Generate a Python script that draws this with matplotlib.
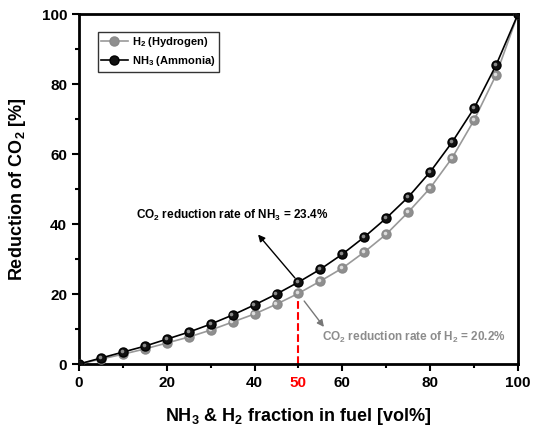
import numpy as np
import matplotlib
matplotlib.use("Agg")
from matplotlib import pyplot as plt
from matplotlib import transforms

plt.rcParams['font.family'] = ['Liberation Sans', 'DejaVu Sans']
plt.rcParams['font.weight'] = 'bold'
plt.rcParams['mathtext.fontset'] = 'custom'
plt.rcParams['mathtext.rm'] = 'Liberation Sans:bold'
plt.rcParams['mathtext.bf'] = 'Liberation Sans:bold'
plt.rcParams['mathtext.default'] = 'bf'

# fraction of NH3 / H2 in fuel [vol%]
fraction = [0, 5, 10, 15, 20, 25, 30, 35, 40, 45, 50, 55, 60, 65, 70, 75, 80, 85, 90, 95, 100]
# reduction of CO2 [%]
red_h2 = [0, 1.4, 2.8, 4.3, 6.0, 7.7, 9.7, 12.0, 14.3, 17.1, 20.2, 23.7, 27.4, 32.0, 37.1, 43.4, 50.3, 58.9, 69.7, 82.6, 100]
red_nh3 = [0, 1.7, 3.4, 5.1, 7.1, 9.1, 11.4, 14.0, 16.9, 20.0, 23.4, 27.1, 31.4, 36.3, 41.7, 47.7, 54.9, 63.4, 73.1, 85.4, 100]

fig = plt.figure(figsize=(5.37, 4.28), dpi=100)
ax = fig.add_axes([0.147, 0.1495, 0.8176, 0.8175])

hl = transforms.offset_copy(ax.transData, fig=fig, x=-0.8, y=0.8, units='points')

# H2 series (gray spheres)
ax.plot(fraction, red_h2, '-', color='#999999', lw=1.2, marker='o', ms=6.5,
        mfc='#8f8f8f', mec='#8a8a8a', label='H$_2$ (Hydrogen)', zorder=3)
ax.plot(fraction[1:-1], red_h2[1:-1], 'o', ms=2.6, mfc='#dddddd', mec='none', zorder=4, transform=hl)
# NH3 series (black spheres)
ax.plot(fraction, red_nh3, '-', color='black', lw=1.2, marker='o', ms=6.5,
        mfc='#111111', mec='black', label='NH$_3$ (Ammonia)', zorder=5)
ax.plot(fraction[1:-1], red_nh3[1:-1], 'o', ms=2.6, mfc='#8a8a8a', mec='none', zorder=6, transform=hl)

# dashed marker at 50 vol%
ax.plot([50, 50], [0, red_h2[10]], '--', color='red', lw=1.5, zorder=2)
ax.text(50, -0.035, '50', color='red', fontsize=11, fontweight='bold',
        ha='center', va='top', transform=ax.get_xaxis_transform())

ax.annotate('', xy=(40.8, 37.0), xytext=(50, red_nh3[10]),
            arrowprops=dict(arrowstyle='-|>', color='black', lw=1, mutation_scale=10,
                            shrinkA=4, shrinkB=0))
ax.text(34.9, 42.6, 'CO$_2$ reduction rate of NH$_3$ = %.1f%%' % red_nh3[10], fontsize=8.5,
        fontweight='bold', color='black', ha='center', va='center')
ax.annotate('', xy=(55.8, 10.6), xytext=(51.3, 18.0),
            arrowprops=dict(arrowstyle='-|>', color='#777777', lw=1, mutation_scale=10,
                            shrinkA=0, shrinkB=0))
ax.text(76.3, 7.7, 'CO$_2$ reduction rate of H$_2$ = %.1f%%' % red_h2[10], fontsize=8.5,
        fontweight='bold', color='#8c8c8c', ha='center', va='center')

ax.set_xlim(0, 100)
ax.set_ylim(0, 100)
ax.set_xticks([0, 20, 40, 60, 80, 100])
ax.set_xticks([10, 30, 50, 70, 90], minor=True)
ax.set_yticks([0, 20, 40, 60, 80, 100])
ax.set_yticks([10, 30, 50, 70, 90], minor=True)
ax.tick_params(which='major', direction='out', length=5, width=1.5, labelsize=11)
ax.tick_params(which='minor', direction='out', length=3, width=1.5)
for lab in ax.get_xticklabels() + ax.get_yticklabels():
    lab.set_fontweight('bold')
for sp in ax.spines.values():
    sp.set_linewidth(2)

ax.set_xlabel('NH$_3$ & H$_2$ fraction in fuel [vol%]', fontsize=13, fontweight='bold', labelpad=12)
ax.set_ylabel('Reduction of CO$_2$ [%]', fontsize=13, fontweight='bold', labelpad=10)

leg = ax.legend(loc='upper left', bbox_to_anchor=(0.043, 0.949), borderaxespad=0, fontsize=8,
                frameon=True, fancybox=False, edgecolor='black', handlelength=2.4, borderpad=0.3,
                labelspacing=0.45, handletextpad=0.4)
leg.get_frame().set_linewidth(1)
for t in leg.get_texts():
    t.set_fontweight('bold')

fig.savefig('out.png', dpi=100)
